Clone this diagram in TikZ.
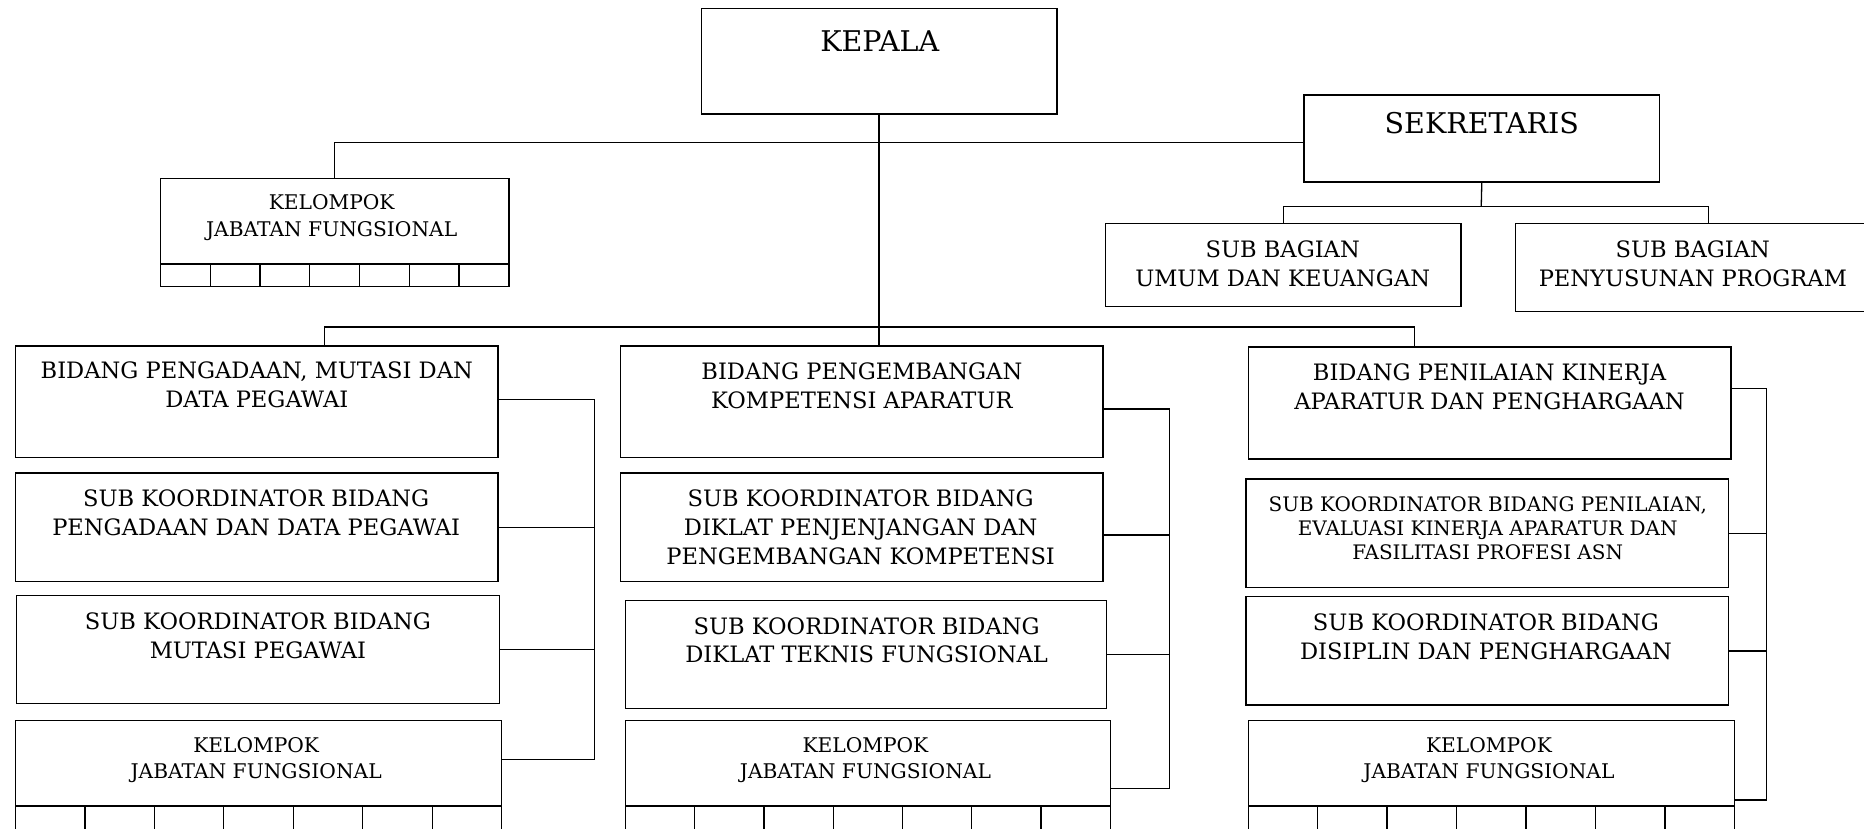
\documentclass[tikz,border=0pt]{standalone}
\usepackage{fontspec}
\setmainfont{DejaVu Serif}
\usetikzlibrary{calc}
\newcommand{\fsttl}{\fontsize{24}{29}\selectfont}
\newcommand{\fsmain}{\fontsize{19}{24.2}\selectfont}
\newcommand{\fskel}{\fontsize{17}{22}\selectfont}
\newcommand{\fsnte}{\fontsize{16.8}{20}\selectfont}

\begin{document}
\begin{tikzpicture}[x=1pt,y=-1pt,
 box/.style={draw=black,line width=1.2pt,inner sep=0pt,outer sep=0pt,anchor=north west},
 wh/.style 2 args={minimum width=#1pt,minimum height=#2pt},
 ln/.style={draw=black,line width=1.1pt},
 txt/.style={align=center,inner sep=0pt,anchor=north,font=\fsmain},
 ttl/.style={txt,font=\fsttl},
 kel/.style={txt,font=\fskel},
 nte/.style={txt,font=\fsnte}]
\useasboundingbox (0,0) rectangle (1568,697.3);
\clip (0,0) rectangle (1568,697.3);
% kepala dan sekretariat
\node[box,wh={299}{89}] (kepala) at (590,7) {};
\node[ttl] (kepalaT) at (740,25.3) {KEPALA};
\node[box,wh={299}{73}] (sek) at (1097,80) {};
\node[ttl] (sekT) at (1246.5,94.3) {SEKRETARIS};
\node[box,wh={299}{70}] (sbU) at (930,188) {};
\node[txt] (sbUT) at (1079,202.1) {SUB BAGIAN\\UMUM DAN KEUANGAN};
\node[box,wh={324}{74}] (sbP) at (1275,188) {};
\node[txt] (sbPT) at (1424,202.1) {SUB BAGIAN\\PENYUSUNAN PROGRAM};
% kelompok jabatan fungsional (atas)
\node[box,wh={293}{72}] (kelT) at (135,150) {};
\node[kel] (kelTT) at (279,163.8) {KELOMPOK\\JABATAN FUNGSIONAL};
\node[box,wh={293}{19}] (kelTc) at (135,222) {};
% kolom kiri
\node[box,wh={406}{94}] (bidA) at (13,291) {};
\node[txt] (bidAT) at (216,304.1) {BIDANG PENGADAAN, MUTASI DAN\\DATA PEGAWAI};
\node[box,wh={406}{91}] (skA) at (13,398) {};
\node[txt] (skAT) at (215.5,412.1) {SUB KOORDINATOR BIDANG\\PENGADAAN DAN DATA PEGAWAI};
\node[box,wh={406}{91}] (skB) at (14,501) {};
\node[txt] (skBT) at (217,515.1) {SUB KOORDINATOR BIDANG\\MUTASI PEGAWAI};
\node[box,wh={409}{72}] (kelL) at (13,606) {};
\node[kel] (kelLT) at (215.5,619.8) {KELOMPOK\\JABATAN FUNGSIONAL};
\node[box,wh={409}{40}] (kelLc) at (13,678) {};
% kolom tengah
\node[box,wh={406}{94}] (bidB) at (522,291) {};
\node[txt] (bidBT) at (725,305.1) {BIDANG PENGEMBANGAN\\KOMPETENSI APARATUR};
\node[box,wh={406}{91}] (skC) at (522,398) {};
\node[txt] (skCT) at (724,412.1) {SUB KOORDINATOR BIDANG\\DIKLAT PENJENJANGAN DAN\\PENGEMBANGAN KOMPETENSI};
\node[box,wh={405}{91}] (skD) at (526,505) {};
\node[txt] (skDT) at (729,519.1) {SUB KOORDINATOR BIDANG\\DIKLAT TEKNIS FUNGSIONAL};
\node[box,wh={408}{72}] (kelM) at (526,606) {};
\node[kel] (kelMT) at (728,619.8) {KELOMPOK\\JABATAN FUNGSIONAL};
\node[box,wh={408}{40}] (kelMc) at (526,678) {};
% kolom kanan
\node[box,wh={406}{94}] (bidC) at (1050,292) {};
\node[txt] (bidCT) at (1253,306.1) {BIDANG PENILAIAN KINERJA\\APARATUR DAN PENGHARGAAN};
\node[box,wh={406}{91}] (skE) at (1048,403) {};
\node[nte] (skET) at (1251.5,417.8) {SUB KOORDINATOR BIDANG PENILAIAN,\\EVALUASI KINERJA APARATUR DAN\\FASILITASI PROFESI ASN};
\node[box,wh={406}{91}] (skF) at (1048,502) {};
\node[txt] (skFT) at (1250,516.1) {SUB KOORDINATOR BIDANG\\DISIPLIN DAN PENGHARGAAN};
\node[box,wh={409}{72}] (kelR) at (1050,606) {};
\node[kel] (kelRT) at (1252.5,619.8) {KELOMPOK\\JABATAN FUNGSIONAL};
\node[box,wh={409}{40}] (kelRc) at (1050,678) {};
% sel jabatan fungsional
\foreach \cl in {kelTc,kelLc,kelMc,kelRc}
 \foreach \i in {1,...,6}
  \draw[ln] ($(\cl.north west)!\i/7!(\cl.north east)$) -- ($(\cl.south west)!\i/7!(\cl.south east)$);
% garis komando
\coordinate (busH) at (742,275);
\coordinate (sekH) at (1246,174);
\coordinate (busA) at (500,639);
\coordinate (busB) at (984,663);
\coordinate (busC) at (1486,673);
\draw[ln] (kepala.south) -- (kepala.south |- bidB.north);
\draw[ln] (kelT.north) |- ([yshift=-3.5pt]sek.west);
\draw[ln] (sek.south) -- (sekH);
\draw[ln] (sbU.north) |- (sekH) -| (sbP.north);
\draw[ln] ([xshift=57pt]bidA.north) |- (busH) -| ([xshift=-63pt]bidC.north);
\draw[ln] ([yshift=2pt]bidA.east) -| (busA) -- (busA -| kelL.east);
\draw[ln] (skA.east) -| (busA);
\draw[ln] (skB.east) -| (busA);
\draw[ln] ([yshift=-6pt]bidB.east) -| (busB) -- (busB -| kelM.east);
\draw[ln] ([yshift=-6.5pt]skC.east) -| (busB);
\draw[ln] (skD.east) -| (busB);
\draw[ln] ([yshift=12pt]bidC.east) -| (busC) -- (busC -| kelR.east);
\draw[ln] (skE.east) -| (busC);
\draw[ln] (skF.east) -| (busC);
\end{tikzpicture}
\end{document}
